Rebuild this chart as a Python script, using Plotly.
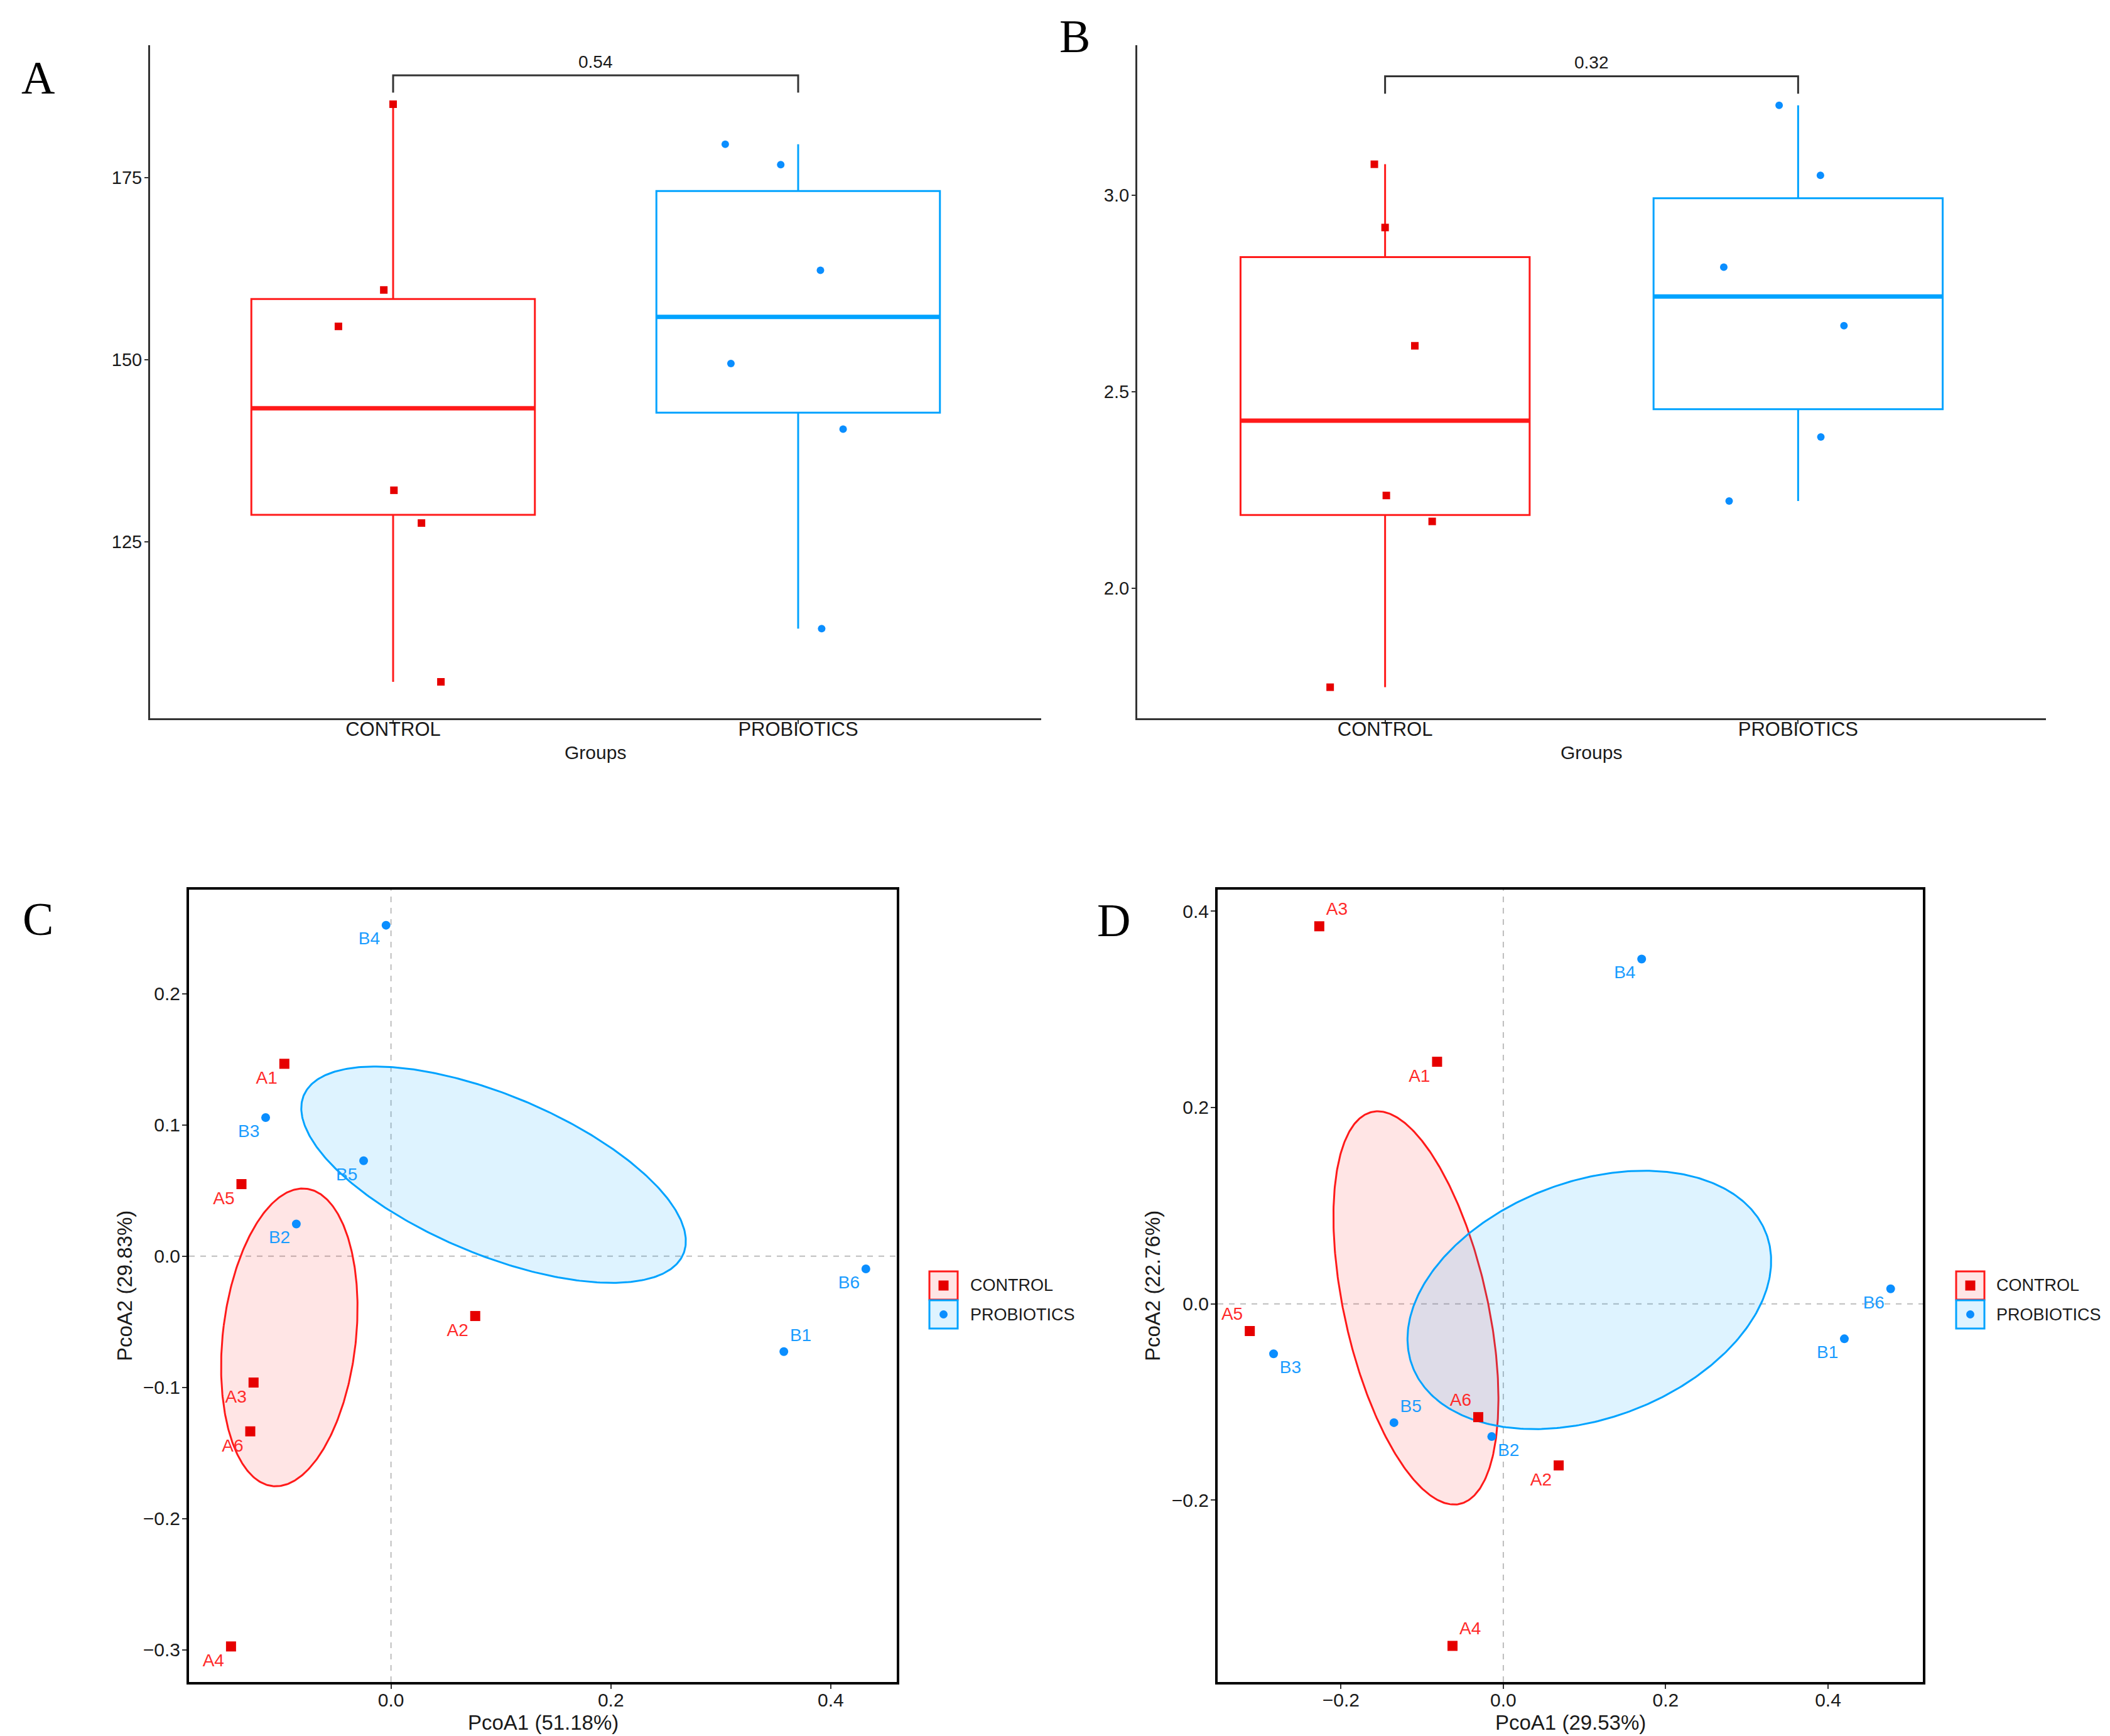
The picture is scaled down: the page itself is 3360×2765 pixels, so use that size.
import numpy as np
import plotly.graph_objects as go

W, H = 3360, 2765

# ---------------- data ----------------
groups = ["CONTROL", "PROBIOTICS"]

# Panel A (richness-like index)
a_control = [185.1, 159.6, 154.6, 132.1, 127.6, 105.8]
a_control_jitter = [0.0, -0.023, -0.135, 0.002, 0.07, 0.118]
a_probiotics = [179.6, 176.8, 162.3, 149.5, 140.5, 113.1]
a_probiotics_jitter = [-0.18, -0.043, 0.055, -0.166, 0.111, 0.058]
a_pvalue = "0.54"

# Panel B (diversity index)
b_control = [3.079, 2.918, 2.617, 2.236, 2.170, 1.748]
b_control_jitter = [-0.026, 0.0, 0.072, 0.003, 0.114, -0.133]
b_probiotics = [3.229, 3.051, 2.817, 2.668, 2.385, 2.222]
b_probiotics_jitter = [-0.046, 0.054, -0.18, 0.111, 0.055, -0.167]
b_pvalue = "0.32"

# Panel C PCoA
control_labels = ["A1", "A2", "A3", "A4", "A5", "A6"]
probiotic_labels = ["B1", "B2", "B3", "B4", "B5", "B6"]
c_control_x = [-0.097, 0.0766, -0.125, -0.1455, -0.136, -0.128]
c_control_y = [0.1466, -0.0456, -0.0963, -0.2974, 0.0549, -0.1335]
c_prob_x = [0.3573, -0.0861, -0.114, -0.0045, -0.0249, 0.4319]
c_prob_y = [-0.0727, 0.0245, 0.1056, 0.2522, 0.0727, -0.0097]
c_xtitle = "PcoA1 (51.18%)"
c_ytitle = "PcoA2 (29.83%)"

# Panel D PCoA
d_control_x = [-0.0816, 0.0682, -0.2267, -0.0626, -0.3123, -0.0309]
d_control_y = [0.2466, -0.1646, 0.3846, -0.3484, -0.0277, -0.1154]
d_prob_x = [0.4201, -0.0143, -0.283, 0.1704, -0.1347, 0.4771]
d_prob_y = [-0.0356, -0.1352, -0.0509, 0.3512, -0.121, 0.0153]
d_xtitle = "PcoA1 (29.53%)"
d_ytitle = "PcoA2 (22.76%)"

# label placement (style)
c_control_pos = ["bottom left"] * 6
c_prob_pos = ["top right", "bottom left", "bottom left", "bottom left", "bottom left", "bottom left"]
d_control_pos = ["bottom left", "bottom left", "top right", "top right", "top left", "top left"]
d_prob_pos = ["bottom left", "bottom right", "bottom right", "bottom left", "top right", "bottom left"]

# ---------------- style ----------------
RED = "#E60000"
RED_LINE = "#FF1A1A"
RED_TEXT = "#FF2A2A"
BLUE = "#0A8EFF"
BLUE_LINE = "#00A3FF"
BLUE_TEXT = "#1A9CFF"
RED_FILL = "rgba(255,40,40,0.12)"
BLUE_FILL = "rgba(0,160,255,0.13)"
NARROW = "Liberation Sans Narrow, Arial Narrow, Liberation Sans, Arial, sans-serif"
SANS = "Liberation Sans, Arial, sans-serif"
SERIF = "Liberation Serif, Times New Roman, serif"
TXT = "#1A1A1A"
BOX_WIDTH = 0.7
ELLIPSE_SCALE = 0.735


def fx(p):
    return p / W


def fy(p):
    return 1 - p / H


dom = {
    "A": ([fx(231), fx(1650)], [fy(1136), fy(64)]),
    "B": ([fx(1803), fx(3250)], [fy(1136), fy(64)]),
    "C": ([fx(293), fx(1420)], [fy(2671), fy(1409)]),
    "D": ([fx(1931), fx(3054)], [fy(2671), fy(1409)]),
}

fig = go.Figure()
shapes = []
annotations = []


def add_box_panel(xa, ya, ctrl, ctrl_j, prob, prob_j, pval):
    for pos, vals, jit, col, lcol, sym in [
        (1, ctrl, ctrl_j, RED, RED_LINE, "square"),
        (2, prob, prob_j, BLUE, BLUE_LINE, "circle"),
    ]:
        v = np.array(vals, dtype=float)
        q1, med, q3 = np.percentile(v, [25, 50, 75])
        iqr = q3 - q1
        lo = v[v >= q1 - 1.5 * iqr].min()
        hi = v[v <= q3 + 1.5 * iqr].max()
        fig.add_trace(go.Box(
            x=[pos], q1=[q1], median=[med], q3=[q3], lowerfence=[lo], upperfence=[hi],
            width=BOX_WIDTH, whiskerwidth=0, boxpoints=False,
            line=dict(color=lcol, width=3), fillcolor="rgba(0,0,0,0)",
            xaxis=xa, yaxis=ya, showlegend=False, hoverinfo="skip"))
        fig.add_trace(go.Scatter(
            x=[pos - BOX_WIDTH / 2, pos + BOX_WIDTH / 2], y=[med, med], mode="lines",
            line=dict(color=lcol, width=7), xaxis=xa, yaxis=ya, showlegend=False,
            hoverinfo="skip"))
        fig.add_trace(go.Scatter(
            x=[pos + j for j in jit], y=vals, mode="markers",
            marker=dict(color=col, size=12, symbol=sym),
            xaxis=xa, yaxis=ya, showlegend=False))
    allv = np.array(ctrl + prob, dtype=float)
    rng = allv.max() - allv.min()
    by = allv.max() + 0.05 * rng
    tip = 0.03 * rng
    shapes.append(dict(type="path", xref=xa, yref=ya,
                       path=f"M 1,{by - tip} L 1,{by} L 2,{by} L 2,{by - tip}",
                       line=dict(color="#333333", width=3)))
    annotations.append(dict(x=1.5, y=by, xref=xa, yref=ya, text=pval, showarrow=False,
                            yanchor="bottom", yshift=4,
                            font=dict(family=NARROW, size=28, color=TXT)))


def ellipse(xs, ys, k, n=361):
    pts = np.column_stack([xs, ys])
    mu = pts.mean(axis=0)
    cov = np.cov(pts.T)
    vals, vecs = np.linalg.eigh(cov)
    t = np.linspace(0, 2 * np.pi, n)
    circ = np.vstack([np.cos(t), np.sin(t)])
    e = vecs @ (np.sqrt(vals)[:, None] * circ) * k + mu[:, None]
    return e[0], e[1]


def add_pcoa_panel(xa, ya, cx, cy, px, py, cpos, ppos):
    for xs, ys, lcol, fcol in [(cx, cy, RED_LINE, RED_FILL), (px, py, BLUE_LINE, BLUE_FILL)]:
        ex, ey = ellipse(xs, ys, ELLIPSE_SCALE)
        fig.add_trace(go.Scatter(x=ex, y=ey, mode="lines", fill="toself", fillcolor=fcol,
                                 line=dict(color=lcol, width=3), xaxis=xa, yaxis=ya,
                                 showlegend=False, hoverinfo="skip"))
    fig.add_trace(go.Scatter(x=cx, y=cy, mode="markers+text", text=control_labels,
                             textposition=cpos,
                             textfont=dict(family=SANS, size=28, color=RED_TEXT),
                             marker=dict(color=RED, size=16, symbol="square"),
                             xaxis=xa, yaxis=ya, showlegend=False))
    fig.add_trace(go.Scatter(x=px, y=py, mode="markers+text", text=probiotic_labels,
                             textposition=ppos,
                             textfont=dict(family=SANS, size=28, color=BLUE_TEXT),
                             marker=dict(color=BLUE, size=14, symbol="circle"),
                             xaxis=xa, yaxis=ya, showlegend=False))
    shapes.append(dict(type="line", xref=xa, yref=ya + " domain", x0=0, x1=0, y0=0, y1=1,
                       line=dict(color="#BDBDBD", width=2, dash="dash"), layer="below"))
    shapes.append(dict(type="line", xref=xa + " domain", yref=ya, x0=0, x1=1, y0=0, y1=0,
                       line=dict(color="#BDBDBD", width=2, dash="dash"), layer="below"))


add_box_panel("x", "y", a_control, a_control_jitter, a_probiotics, a_probiotics_jitter, a_pvalue)
add_box_panel("x2", "y2", b_control, b_control_jitter, b_probiotics, b_probiotics_jitter, b_pvalue)
add_pcoa_panel("x3", "y3", c_control_x, c_control_y, c_prob_x, c_prob_y, c_control_pos, c_prob_pos)
add_pcoa_panel("x4", "y4", d_control_x, d_control_y, d_prob_x, d_prob_y, d_control_pos, d_prob_pos)


def box_xaxis(d):
    return dict(domain=d, range=[0.4, 2.6], type="linear", tickmode="array", tickvals=[1, 2],
                ticktext=groups, showline=True, linecolor="#333333", linewidth=3,
                ticks="outside", ticklen=6, tickwidth=2, tickcolor="#333333",
                showgrid=False, zeroline=False, ticklabelstandoff=-18,
                tickfont=dict(family=NARROW, size=31, color=TXT))


def box_yaxis(d, rng, dtick, fmt):
    return dict(domain=d, range=rng, tickmode="linear", tick0=0, dtick=dtick, tickformat=fmt,
                showline=True, linecolor="#333333", linewidth=3,
                ticks="outside", ticklen=6, tickwidth=2, tickcolor="#333333",
                showgrid=False, zeroline=False, ticklabelstandoff=-2,
                tickfont=dict(family=NARROW, size=29, color=TXT))


def pcoa_axis(d, rng, dtick, anchor, standoff):
    return dict(domain=d, range=rng, tickmode="linear", tick0=0, dtick=dtick, tickformat=".1f",
                showline=True, mirror=True, linecolor="#000000", linewidth=4,
                ticks="outside", ticklen=7, tickwidth=2, tickcolor="#333333",
                showgrid=False, zeroline=False, anchor=anchor, ticklabelstandoff=standoff,
                tickfont=dict(family=SANS, size=30, color=TXT))


layout = dict(
    width=W, height=H, margin=dict(l=0, r=0, t=0, b=0),
    paper_bgcolor="white", plot_bgcolor="white", showlegend=False,
    xaxis=dict(box_xaxis(dom["A"][0]), anchor="y"),
    yaxis=dict(box_yaxis(dom["A"][1], [100.8, 193.2], 25, "d"), anchor="x"),
    xaxis2=dict(box_xaxis(dom["B"][0]), anchor="y2"),
    yaxis2=dict(box_yaxis(dom["B"][1], [1.669, 3.382], 0.5, ".1f"), anchor="x2"),
    xaxis3=pcoa_axis(dom["C"][0], [-0.1837, 0.46], 0.2, "y3", -8),
    yaxis3=pcoa_axis(dom["C"][1], [-0.3245, 0.2793], 0.1, "x3", -3),
    xaxis4=pcoa_axis(dom["D"][0], [-0.3519, 0.5168], 0.2, "y4", -8),
    yaxis4=pcoa_axis(dom["D"][1], [-0.3852, 0.4219], 0.2, "x4", -3),
)
fig.update_layout(**layout)


def ann_px(x, y, text, font, **kw):
    d = dict(x=fx(x), y=fy(y), xref="paper", yref="paper", text=text, showarrow=False,
             font=font, xanchor="center", yanchor="middle")
    d.update(kw)
    annotations.append(d)


# axis titles
ann_px(940, 1190, "Groups", dict(family=NARROW, size=30, color=TXT))
ann_px(2526, 1190, "Groups", dict(family=NARROW, size=30, color=TXT))
ann_px(857, 2735, c_xtitle, dict(family=SANS, size=33, color=TXT))
ann_px(190, 2040, c_ytitle, dict(family=SANS, size=33, color=TXT), textangle=-90)
ann_px(2493, 2735, d_xtitle, dict(family=SANS, size=33, color=TXT))
ann_px(1827, 2040, d_ytitle, dict(family=SANS, size=33, color=TXT), textangle=-90)

# panel letters
for letter, x, y in [("A", 52, 116), ("B", 1703, 50), ("C", 52, 1456), ("D", 1765, 1458)]:
    ann_px(x, y, letter, dict(family=SERIF, size=74, color="#000000"))

# manual legends for C and D
for kx, tx in [(1472, 1535), (3107, 3169)]:
    k = 45
    y0 = 2017
    for i, (name, lcol, fcol, mcol, kind) in enumerate([
        ("CONTROL", RED_LINE, "rgba(255,40,40,0.12)", RED, "rect"),
        ("PROBIOTICS", BLUE_LINE, "rgba(0,160,255,0.13)", BLUE, "circle"),
    ]):
        top = y0 + i * (k + 1)
        shapes.append(dict(type="rect", xref="paper", yref="paper",
                           x0=fx(kx), x1=fx(kx + k), y0=fy(top + k), y1=fy(top),
                           line=dict(color=lcol, width=3), fillcolor=fcol))
        cxp, cyp = kx + k / 2, top + k / 2
        s = 8 if kind == "rect" else 6.5
        shapes.append(dict(type=kind, xref="paper", yref="paper",
                           x0=fx(cxp - s), x1=fx(cxp + s), y0=fy(cyp + s), y1=fy(cyp - s),
                           line=dict(color=mcol, width=0), fillcolor=mcol))
        ann_px(tx, cyp, name, dict(family=SANS, size=27, color=TXT), xanchor="left")

fig.update_layout(shapes=shapes, annotations=annotations)
fig.write_html("out.html")
